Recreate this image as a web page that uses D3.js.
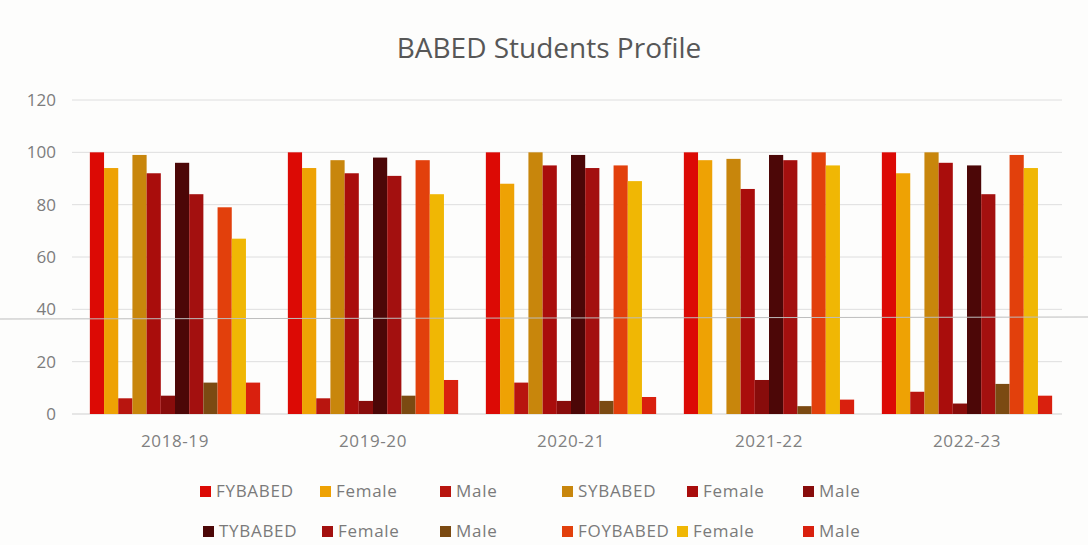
<!DOCTYPE html>
<html>
<head>
<meta charset="utf-8">
<script src="https://cdn.jsdelivr.net/npm/d3@7"></script>
<style>
	body { margin: 0; background: #fff; }
	svg { display: block; font-family: "Open Sans", "Noto Sans", sans-serif; }
</style>
</head>
<body>
<div id="chart"></div>
<script>
var years = ['2018-19', '2019-20', '2020-21', '2021-22', '2022-23'];

var seriesNames = ['FYBABED', 'Female', 'Male', 'SYBABED', 'Female', 'Male',
	'TYBABED', 'Female', 'Male', 'FOYBABED', 'Female', 'Male'];

var seriesColors = ['#dc0a05', '#eea204', '#b8150f', '#c8860c', '#a90d0c', '#880c0b',
	'#4c0707', '#a3100f', '#7b4a12', '#e2400c', '#f0b704', '#d9200e'];

// one row per year, one value per series
var values = [
	[100, 94, 6, 99, 92, 7, 96, 84, 12, 79, 67, 12],
	[100, 94, 6, 97, 92, 5, 98, 91, 7, 97, 84, 13],
	[100, 88, 12, 100, 95, 5, 99, 94, 5, 95, 89, 6.5],
	[100, 97, 0, 97.5, 86, 13, 99, 97, 3, 100, 95, 5.5],
	[100, 92, 8.5, 100, 96, 4, 95, 84, 11.5, 99, 94, 7]
];

var yTicks = [0, 20, 40, 60, 80, 100, 120];

var width = 1088;
var height = 545;

var svg = d3.select('#chart')
	.append('svg')
	.attr('width', width)
	.attr('height', height);

svg.append('rect')
	.attr('width', width)
	.attr('height', height)
	.attr('fill', '#fdfdfc');

var x0 = d3.scaleBand()
	.domain(years)
	.range([76, 1066])
	.paddingInner(0.14)
	.paddingOuter(0.07);

var x1 = d3.scaleBand()
	.domain(d3.range(seriesNames.length))
	.range([0, x0.bandwidth()]);

var y = d3.scaleLinear()
	.domain([0, 120])
	.range([414, 100]);

// gridlines
svg.append('g')
	.selectAll('line')
	.data(yTicks)
	.enter()
	.append('line')
	.attr('x1', 72)
	.attr('x2', 1062)
	.attr('y1', function(d) { return y(d); })
	.attr('y2', function(d) { return y(d); })
	.attr('stroke', function(d) { return d === 0 ? '#cfcfcf' : '#dedede'; })
	.attr('stroke-width', 1);

// y labels
svg.append('g')
	.selectAll('text')
	.data(yTicks)
	.enter()
	.append('text')
	.attr('x', 56)
	.attr('y', function(d) { return y(d); })
	.attr('dy', '0.35em')
	.attr('text-anchor', 'end')
	.attr('font-size', 17)
	.attr('fill', '#7c7c7c')
	.text(function(d) { return d; });

// bars
var groups = svg.append('g')
	.selectAll('g')
	.data(years)
	.enter()
	.append('g')
	.attr('transform', function(d) { return 'translate(' + x0(d) + ',0)'; });

groups.selectAll('rect')
	.data(function(d, i) { return values[i]; })
	.enter()
	.append('rect')
	.attr('x', function(d, i) { return x1(i); })
	.attr('y', function(d) { return y(d); })
	.attr('width', x1.bandwidth())
	.attr('height', function(d) { return y(0) - y(d); })
	.attr('fill', function(d, i) { return seriesColors[i]; });

// x labels
svg.append('g')
	.selectAll('text')
	.data(years)
	.enter()
	.append('text')
	.attr('x', function(d) { return x0(d) + x0.bandwidth() / 2; })
	.attr('y', 441)
	.attr('dy', '0.35em')
	.attr('text-anchor', 'middle')
	.attr('font-size', 17)
	.attr('letter-spacing', 0.6)
	.attr('fill', '#808080')
	.text(function(d) { return d; });

// title
svg.append('text')
	.attr('x', 549)
	.attr('y', 48)
	.attr('dy', '0.35em')
	.attr('text-anchor', 'middle')
	.attr('font-size', 28)
	.attr('fill', '#575757')
	.text('BABED Students Profile');

// legend, 6 entries per row
var legendX = [200, 320, 440, 562, 687, 803, 203, 322, 440, 562, 677, 803];

var legend = svg.append('g')
	.selectAll('g')
	.data(seriesNames)
	.enter()
	.append('g')
	.attr('transform', function(d, i) {
		return 'translate(' + legendX[i] + ',' + (i < 6 ? 491 : 531) + ')';
	});

legend.append('rect')
	.attr('x', 0)
	.attr('y', -5)
	.attr('width', 11)
	.attr('height', 11)
	.attr('fill', function(d, i) { return seriesColors[i]; });

legend.append('text')
	.attr('x', 16)
	.attr('y', 0)
	.attr('dy', '0.35em')
	.attr('font-size', 17)
	.attr('letter-spacing', 0.7)
	.attr('fill', '#7a7a7a')
	.text(function(d) { return d; });

// scan fold line across the page
svg.append('line')
	.attr('x1', 0)
	.attr('x2', width)
	.attr('y1', 319)
	.attr('y2', 317)
	.attr('stroke', '#bdbdbd')
	.attr('stroke-width', 1);
</script>
</body>
</html>
